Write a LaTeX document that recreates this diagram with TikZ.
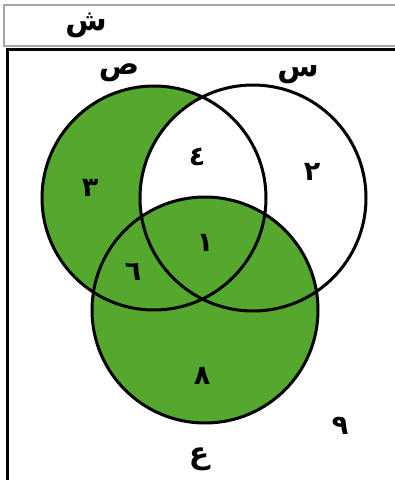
\documentclass[tikz,border=0pt]{standalone}
\usepackage{fontspec}
\newfontfamily\arabicfont[Script=Arabic]{DejaVu Sans}
\TeXXeTstate=1
\definecolor{venngreen}{RGB}{84,168,46}
\tikzset{
  setline/.style={line width=3pt},
  setname/.style={font=\arabicfont\bfseries\fontsize{30}{30}\selectfont},
  regionnum/.style={font=\arabicfont\bfseries\fontsize{27}{27}\selectfont}
}
\begin{document}
\begin{tikzpicture}[x=1pt,y=-1pt]
        \clip (0,0) rectangle (395,480);
        \fill[white] (0,0) rectangle (395,480);
        % frame of the universal set
        \draw[gray!70,line width=1.5pt] (4,5) rectangle (410,46);
        \draw[line width=3pt] (7,49) rectangle (410,500);
        % the three sets
        \coordinate (sad) at (154,198);
        \coordinate (sin) at (253,198);
        \coordinate (ain) at (205,310);
        \fill[venngreen] (sad) circle[radius=112pt];
        \begin{scope}
          \clip (sin) circle[radius=113pt];
          \fill[white] (sad) circle[radius=112pt];
        \end{scope}
        \fill[venngreen] (ain) circle[radius=113pt];
        \draw[setline] (sad) circle[radius=112pt] (sin) circle[radius=113pt] (ain) circle[radius=113pt];
        % set names
        \node[setname] (nameU) at (86,25) {\beginR ش\endR};
        \node[setname] (nameS) at (119,73) {\beginR ص\endR};
        \node[setname] (nameT) at (298,75) {\beginR س\endR};
        \node[setname] (nameA) at (199,459) {\beginR ع\endR};
        % elements
        \node[regionnum] (three) at (90,188) {٣};
        \node[regionnum] (four) at (197,157) {٤};
        \node[regionnum] (two) at (312,172) {٢};
        \node[regionnum] (one) at (205,243) {١};
        \node[regionnum] (six) at (133,272) {٦};
        \node[regionnum] (eight) at (202,376) {٨};
        \node[regionnum] (nine) at (340,426) {٩};
\end{tikzpicture}
\end{document}
